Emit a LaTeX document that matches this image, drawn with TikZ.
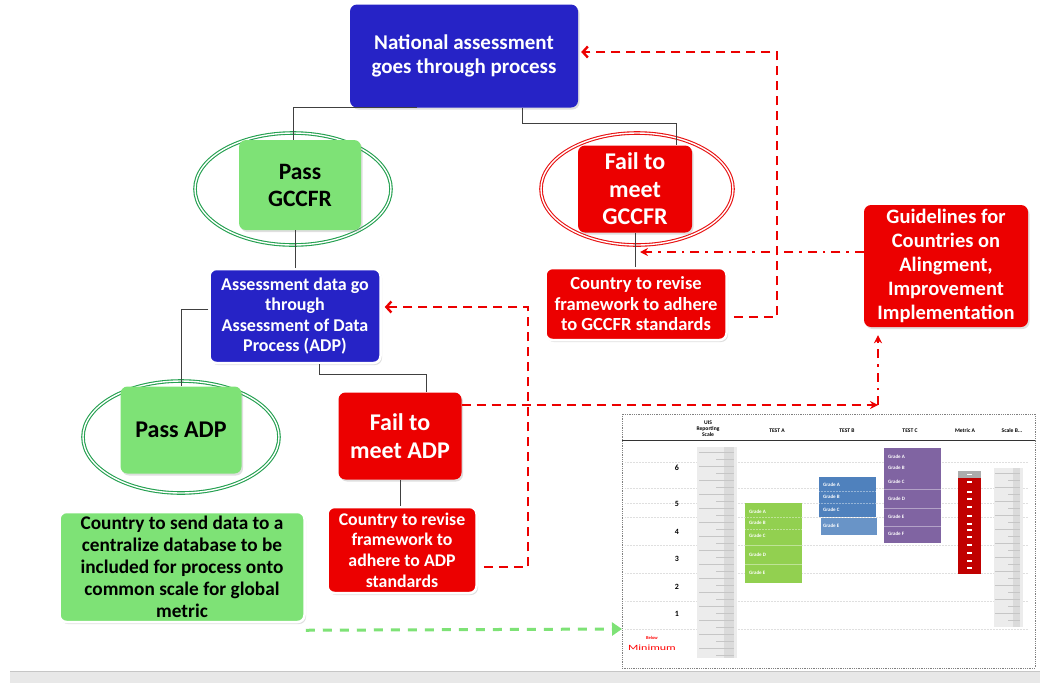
\documentclass[tikz,border=0pt]{standalone}
\usepackage{fontspec}
\setmainfont{Carlito}
\usetikzlibrary{shapes.geometric,arrows.meta,shadows}

\newlength{\du}
\setlength{\du}{1pt}

\definecolor{natblue}{RGB}{38,35,198}
\definecolor{failred}{RGB}{236,0,0}
\definecolor{passgreen}{RGB}{126,226,118}
\definecolor{ringgreen}{RGB}{36,160,80}
\definecolor{ringred}{RGB}{232,18,18}
\definecolor{testa}{RGB}{146,208,80}
\definecolor{testb}{RGB}{79,129,189}
\definecolor{testc}{RGB}{128,100,162}
\definecolor{metricred}{RGB}{192,0,0}

\tikzset{
  box/.style={rounded corners=7\du, align=center, inner sep=2\du,
    drop shadow={opacity=0.25, shadow xshift=1.5pt, shadow yshift=-2pt}},
  bluebox/.style={box, fill=natblue, text=white},
  redbox/.style={box, fill=failred, text=white},
  greenbox/.style={box, fill=passgreen, text=black},
  framed/.style={draw=white, line width=2.5\du},
  ring/.style={ellipse, draw=#1, double=white, double distance=1.4\du, line width=1.1\du, inner sep=0},
  link/.style={draw=black!75, line width=0.9\du},
  reddash/.style={draw=failred, line width=2.4\du, dash pattern=on 9\du off 6\du},
  reddashdot/.style={draw=failred, line width=2.4\du, dash pattern=on 9\du off 6\du on 2.5\du off 6\du},
  greendash/.style={draw=passgreen, line width=3\du, dash pattern=on 9\du off 8\du},
  barb/.style={-{Straight Barb[length=5pt,width=11pt]}},
  tip/.style={-{Stealth[length=8pt,width=8pt]}},
  grade/.style={font=\fontsize{5}{5}\selectfont\bfseries, text=white, anchor=west, inner sep=0},
  head/.style={font=\fontsize{5.6}{6}\selectfont\bfseries, align=center, inner sep=0},
  level/.style={font=\fontsize{8}{8}\selectfont\bfseries, inner sep=0}
}

\begin{document}
\begin{tikzpicture}[x=\du, y=-\du]
\useasboundingbox (0,0) rectangle (1040,683);

% bottom band
\fill[gray!18] (10,672) rectangle (1040,683);
\draw[gray!45] (10,671) -- (1040,671);

% rings behind the pass / fail boxes
\node[ring=ringgreen, minimum width=196\du, minimum height=112\du] (ring1) at (293,189) {};
\node[ring=ringred, minimum width=192\du, minimum height=112\du] (ring2) at (637,189) {};
\node[ring=ringgreen, minimum width=196\du, minimum height=112\du] (ring3) at (181,437) {};

% boxes
\node[bluebox, minimum width=228\du, minimum height=103\du, font=\fontsize{21}{24}\selectfont\bfseries] (nat) at (464,56) {National assessment\\goes through process};
\node[greenbox, minimum width=122\du, minimum height=90\du, font=\fontsize{23.5}{27}\selectfont\bfseries] (pass1) at (300,185) {Pass\\GCCFR};
\node[redbox, minimum width=114\du, minimum height=87\du, font=\fontsize{24}{27.5}\selectfont\bfseries] (fail1) at (635,189) {Fail to\\meet\\GCCFR};
\node[redbox, framed, minimum width=181\du, minimum height=72\du, font=\fontsize{18.5}{20.5}\selectfont\bfseries] (revise1) at (636,304) {Country to revise\\framework to adhere\\to GCCFR standards};
\node[redbox, minimum width=164\du, minimum height=122\du, font=\fontsize{20.5}{24}\selectfont\bfseries] (guide) at (946,266) {Guidelines for\\Countries on\\Alingment,\\Improvement\\Implementation};
\node[bluebox, framed, minimum width=171\du, minimum height=94\du, font=\fontsize{18}{20.5}\selectfont\bfseries] (assess) at (295,316) {Assessment data go\\through\\Assessment of Data\\Process (ADP)};
\node[greenbox, minimum width=121\du, minimum height=87\du, font=\fontsize{24}{27}\selectfont\bfseries] (pass2) at (181,430) {Pass ADP};
\node[redbox, minimum width=123\du, minimum height=87\du, font=\fontsize{24}{28}\selectfont\bfseries] (fail2) at (400,436) {Fail to\\meet ADP};
\node[redbox, framed, minimum width=149\du, minimum height=86\du, font=\fontsize{17.8}{20.7}\selectfont\bfseries] (revise2) at (402,550) {Country to revise\\framework to\\adhere to ADP\\standards};
\node[greenbox, framed, minimum width=245\du, minimum height=110\du, font=\fontsize{19.3}{22}\selectfont\bfseries] (data) at (182,567) {Country to send data to a\\centralize database to be\\included for process onto\\common scale for global\\metric};

% tree links
\draw[link] ([xshift=-47\du]nat.south) -| ([xshift=-7\du]pass1.north);
\draw[link] ([xshift=58\du]nat.south) -- ++(0,16) -| ([xshift=41\du]fail1.north);
\draw[link] (assess.north) -- (assess.north |- pass1.south);
\draw[link] (fail1.south) -- (fail1.south |- revise1.north);
\draw[link] ([yshift=7\du]assess.west) -| (pass2.north);
\draw[link] ([xshift=24\du]assess.south) -- ++(0,10) -| ([xshift=26\du]fail2.north);
\draw[link] (fail2.south) -- (fail2.south |- revise2.north);

% feedback arrows
\coordinate (up1) at (777,52);
\coordinate (up2) at (528,307);
\coordinate (tipA) at (640,252);
\coordinate (bend) at (878,405);
\coordinate (chartin) at (622,629);
\draw[reddash, barb, shorten <=6pt, shorten >=3pt] ([yshift=-13\du]revise1.east) -| (up1) -- (nat.east |- up1);
\draw[reddash, barb, shorten <=6pt, shorten >=3pt] ([yshift=-17\du]revise2.east) -| (up2) -- (assess.east |- up2);
\draw[reddashdot, tip] (guide.west |- tipA) -- (tipA);
\draw[reddash, tip] ([yshift=31\du]fail2.east) -- (bend);
\draw[reddashdot, tip, shorten >=8pt] (bend) -- (bend |- guide.south);
\draw[greendash, -{Triangle[length=10pt,width=13pt]}] ([yshift=-7\du]data.south east) -- (chartin);

% chart
\draw[gray, densely dotted, line width=0.8\du] (622,414) rectangle (1035,668);
\draw[black!80, line width=0.8\du] (622,440) -- (1035,440);
\node[head] (hscale) at (708,429) {UIS\\Reporting\\Scale};
\node[head] (htesta) at (777,431) {TEST A};
\node[head] (htestb) at (847,431) {TEST B};
\node[head] (htestc) at (910,431) {TEST C};
\node[head] (hmetric) at (965,431) {Metric A};
\node[head] (hscaleb) at (1012,431) {Scale B...};
\foreach \y in {462,488,503,517,545,573,601,629}
  \draw[gray!25, densely dotted, line width=0.5\du] (625,\y) -- (1028,\y);
\foreach \n/\y in {6/468,5/504,4/532,3/559,2/587,1/614}
  \node[level] at (677,\y) {\n};
\node[text=red, font=\fontsize{4.5}{4.5}\selectfont\bfseries, inner sep=0] at (652,638) {Below};
\node[text=red, font=\fontsize{8}{8}\selectfont, xscale=1.5, transform shape, inner sep=0] at (652,648) {Minimum};

% rulers
\fill[gray!15] (697,447) rectangle (737,658);
\fill[gray!28] (724,447) rectangle (734,658);
\foreach \y in {452,466,...,655}
  \draw[gray!45, line width=0.6\du] (699,\y) -- (734,\y);
\foreach \y in {459,473,...,655}
  \draw[gray!45, line width=0.6\du] (716,\y) -- (734,\y);
\fill[gray!15] (994,468) rectangle (1023,627);
\fill[gray!28] (1013,468) rectangle (1020,627);
\foreach \y in {473,487,...,625}
  \draw[gray!45, line width=0.6\du] (995,\y) -- (1020,\y);
\foreach \y in {480,494,...,625}
  \draw[gray!45, line width=0.6\du] (1008,\y) -- (1020,\y);

% test A
\fill[testa] (745,503) rectangle (802,583);
\draw[white!40!testa, line width=0.7\du] (745,545) -- (802,545) (745,564) -- (802,564);
\draw[white!40!testa, densely dotted, line width=0.5\du] (745,517) -- (802,517) (745,529) -- (802,529);
\foreach \g/\y in {A/512,B/523,C/536,D/555,E/573}
  \node[grade] at (749,\y) {Grade \g};

% test B
\fill[testb] (819,477) rectangle (876,517);
\fill[testb!85!white] (821,518) rectangle (877,535);
\draw[white!40!testb, densely dotted, line width=0.5\du] (819,491) -- (876,491) (819,503) -- (876,503);
\foreach \g/\y in {A/485,B/497,C/510,E/526}
  \node[grade] at (823,\y) {Grade \g};

% test C
\fill[testc] (884,448) rectangle (941,543);
\draw[white!40!testc, line width=0.7\du] (884,489) -- (941,489) (884,508) -- (941,508) (884,526) -- (941,526);
\foreach \g/\y in {A/457,B/468,C/482,D/499,E/517,F/534}
  \node[grade] at (888,\y) {Grade \g};

% metric A
\fill[metricred] (958,471) rectangle (981,574);
\fill[gray!65] (958,471) rectangle (981,478);
\foreach \y in {474.5,482,492,499,507,516,524,530,537,545,553,561,568}
  \draw[white, line width=1.3\du] (967,\y) -- (972,\y);

\end{tikzpicture}
\end{document}
